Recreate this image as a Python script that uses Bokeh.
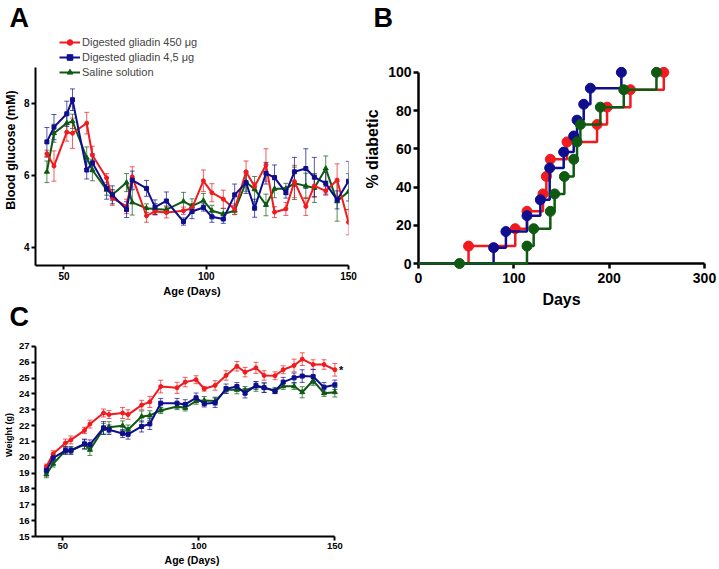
from bokeh.plotting import figure
from bokeh.models import ColumnDataSource, Whisker, TeeHead, Legend, LegendItem, Label
from bokeh.layouts import column, row
from bokeh.embed import file_html
from bokeh.resources import INLINE

FONT = "Liberation Sans"
RED = "#F01A1F"
BLUE = "#0E0E8E"
GREEN = "#0E5A12"

# ---------------- data ----------------
age_days = [44, 46.5, 51, 53, 58, 60, 65, 67, 72, 74, 79, 82, 86, 92, 95,
            99, 102, 106, 110, 114, 117, 121, 124, 128, 131, 135, 138, 142, 146, 150]

# Panel A: blood glucose (mM)
glucose_450 = [6.60, 6.26, 7.20, 7.17, 7.45, 6.56, 5.93, 5.37, 5.14, 5.96, 4.88, 5.00, 4.97, 5.02, 5.09,
               5.85, 5.52, 5.34, 5.06, 6.10, 5.69, 6.29, 4.98, 5.07, 5.83, 5.14, 5.71, 5.57, 5.87, 4.70]
glucose_450_sem = [0.10, 0.42, 0.25, 0.42, 0.30, 0.25, 0.12, 0.20, 0.20, 0.28, 0.18, 0.10, 0.15, 0.10, 0.12,
                   0.30, 0.25, 0.25, 0.15, 0.30, 0.12, 0.45, 0.15, 0.18, 0.45, 0.25, 0.30, 0.12, 0.45, 0.35]
glucose_45 = [6.93, 7.34, 7.71, 8.10, 6.15, 6.35, 5.64, 5.46, 5.05, 5.87, 5.64, 5.12, 5.29, 4.72, 5.00,
              5.11, 4.85, 4.79, 5.46, 5.80, 5.09, 6.06, 5.94, 5.52, 6.10, 6.19, 5.95, 5.78, 5.32, 5.84]
glucose_45_sem = [0.40, 0.35, 0.35, 0.30, 0.25, 0.25, 0.30, 0.25, 0.22, 0.25, 0.22, 0.20, 0.25, 0.10, 0.20,
                  0.10, 0.15, 0.12, 0.30, 0.30, 0.25, 0.30, 0.35, 0.15, 0.40, 0.55, 0.55, 0.30, 0.25, 0.55]
glucose_saline = [6.10, 7.17, 7.45, 7.50, 6.49, 6.15, 5.60, 5.46, 5.80, 5.25, 5.09, 5.07, 5.05, 5.28, 5.15,
                  5.30, 5.02, 4.93, 5.02, 5.81, 5.62, 5.18, 5.63, 5.63, 5.78, 5.71, 5.65, 6.19, 5.28, 5.55]
glucose_saline_sem = [0.30, 0.25, 0.25, 0.20, 0.30, 0.30, 0.15, 0.15, 0.25, 0.35, 0.12, 0.15, 0.10, 0.25, 0.20,
                      0.20, 0.15, 0.15, 0.10, 0.25, 0.35, 0.30, 0.25, 0.15, 0.45, 0.35, 0.40, 0.35, 0.55, 0.50]

# Panel C: weight (g)
weight_450 = [19.42, 20.22, 20.90, 21.10, 21.70, 22.10, 22.80, 22.70, 22.80, 22.70, 23.30, 23.50, 24.47, 24.39, 24.75,
              24.90, 24.33, 24.54, 25.17, 25.75, 25.38, 25.65, 25.17, 25.15, 25.53, 25.80, 26.20, 25.86, 25.86, 25.53]
weight_450_sem = [0.15, 0.20, 0.25, 0.25, 0.20, 0.25, 0.25, 0.25, 0.35, 0.30, 0.30, 0.35, 0.40, 0.35, 0.30,
                  0.25, 0.15, 0.30, 0.30, 0.30, 0.30, 0.35, 0.30, 0.25, 0.25, 0.40, 0.40, 0.30, 0.30, 0.40]
weight_45 = [19.17, 19.97, 20.43, 20.43, 20.85, 20.80, 21.86, 21.74, 21.50, 21.45, 21.95, 22.11, 23.42, 23.42, 23.34,
             23.76, 23.38, 23.45, 24.33, 24.47, 24.05, 24.54, 24.40, 24.18, 24.75, 25.02, 25.13, 25.10, 24.43, 24.58]
weight_45_sem = [0.20, 0.20, 0.25, 0.25, 0.30, 0.30, 0.40, 0.30, 0.25, 0.30, 0.35, 0.35, 0.30, 0.30, 0.30,
                 0.30, 0.20, 0.30, 0.30, 0.25, 0.30, 0.25, 0.30, 0.15, 0.30, 0.30, 0.40, 0.45, 0.30, 0.30]
weight_saline = [18.91, 19.59, 20.43, 20.43, 20.81, 20.47, 21.80, 21.90, 22.00, 21.74, 22.58, 22.64, 22.96, 23.21, 23.13,
                 23.55, 23.59, 23.55, 24.26, 24.26, 24.22, 24.47, 24.40, 24.22, 24.49, 24.49, 24.11, 24.85, 24.05, 24.11]
weight_saline_sem = [0.20, 0.20, 0.20, 0.20, 0.30, 0.35, 0.35, 0.35, 0.30, 0.30, 0.35, 0.30, 0.20, 0.20, 0.20,
                     0.20, 0.25, 0.25, 0.20, 0.25, 0.25, 0.30, 0.30, 0.20, 0.20, 0.20, 0.35, 0.30, 0.20, 0.30]

# Panel B: cumulative % diabetic
onset_days_450 = [0, 52.5, 101.5, 113.8, 130.6, 134.1, 138.3, 155.8, 187.3, 197.8, 222.3, 257.3]
pct_diabetic_450 = [0, 9.1, 18.2, 27.3, 36.4, 45.5, 54.5, 63.6, 72.7, 81.8, 90.9, 100]
onset_days_45 = [0, 78.8, 91.7, 113.8, 127.8, 137.6, 152.3, 162.8, 166.3, 173.3, 180.3, 212.8]
pct_diabetic_45 = [0, 8.3, 16.7, 25.0, 33.3, 50.0, 58.3, 66.7, 75.0, 83.3, 91.7, 100]
onset_days_saline = [0, 43, 113.8, 120.8, 138.3, 142.8, 153.0, 162.8, 166.3, 169.8, 190.8, 215.3, 249.6]
pct_diabetic_saline = [0, 0, 9.1, 18.2, 27.3, 36.4, 45.5, 54.5, 63.6, 72.7, 81.8, 90.9, 100]

labels = ["Digested gliadin 450 \u03bcg", "Digested gliadin 4,5 \u03bcg", "Saline solution"]
a_ticks_x = [50, 100, 150]
a_ticks_y = [4, 6, 8]
b_ticks_x = [0, 100, 200, 300]
b_ticks_y = [0, 20, 40, 60, 80, 100]
c_ticks_y = list(range(15, 28))


def base_fig(width, height, xr, yr, left, right, top, bottom, letter, letter_offset, lw=2):
    p = figure(width=width, height=height, x_range=xr, y_range=yr,
               output_backend="svg", toolbar_location=None,
               min_border_left=left, min_border_right=right,
               min_border_top=top, min_border_bottom=bottom)
    p.xgrid.visible = False
    p.ygrid.visible = False
    p.outline_line_color = None
    for ax in list(p.xaxis) + list(p.yaxis):
        ax.axis_line_width = lw
        ax.axis_line_color = "black"
        ax.major_tick_line_width = lw
        ax.major_tick_line_color = "black"
        ax.major_tick_in = 0
        ax.major_tick_out = 4
        ax.minor_tick_line_color = None
        ax.major_label_text_font = FONT
        ax.major_label_text_font_style = "bold"
        ax.major_label_text_color = "black"
        ax.axis_label_text_font = FONT
        ax.axis_label_text_font_style = "bold"
        ax.axis_label_text_color = "black"
    p.title.text = letter
    p.title.text_font = FONT
    p.title.text_font_size = "27px"
    p.title.text_font_style = "bold"
    p.title.text_color = "black"
    p.title.align = "left"
    p.title.vertical_align = "top"
    p.title.standoff = 0
    p.title.offset = letter_offset
    return p


def draw_series(p, x, y, err, color, marker, size):
    src = ColumnDataSource(dict(x=x, y=y,
                                upper=[a + b for a, b in zip(y, err)],
                                lower=[a - b for a, b in zip(y, err)]))
    w = Whisker(source=src, base="x", upper="upper", lower="lower",
                line_color=color, line_width=1, line_alpha=0.7,
                upper_head=TeeHead(size=5, line_color=color, line_width=1, line_alpha=0.7),
                lower_head=TeeHead(size=5, line_color=color, line_width=1, line_alpha=0.7))
    p.add_layout(w)
    ln = p.line("x", "y", source=src, line_color=color, line_width=2)
    sc = p.scatter("x", "y", source=src, marker=marker, size=size,
                   fill_color=color, line_color=color)
    return [ln, sc]


# ---------------- Panel A ----------------
pA = base_fig(360, 299, (40, 150), (3.5, 9.91), 30, 11, 34, 33, "A", -26)
pA.xaxis.ticker = a_ticks_x
pA.yaxis.ticker = a_ticks_y
pA.yaxis.bounds = (3.5, 9)
pA.xaxis.axis_label = "Age (Days)"
pA.yaxis.axis_label = "Blood glucose (mM)"
pA.axis.major_label_text_font_size = "10px"
pA.axis.major_label_standoff = 2
pA.xaxis.axis_label_text_font_size = "11px"
pA.yaxis.axis_label_text_font_size = "12.5px"
pA.xaxis.axis_label_standoff = 2
pA.yaxis.axis_label_standoff = 3

rA_sal = draw_series(pA, age_days, glucose_saline, glucose_saline_sem, GREEN, "triangle", 5)
rA_450 = draw_series(pA, age_days, glucose_450, glucose_450_sem, RED, "circle", 4)
rA_45 = draw_series(pA, age_days, glucose_45, glucose_45_sem, BLUE, "square", 4)

legA = Legend(items=[LegendItem(label=labels[0], renderers=rA_450),
                     LegendItem(label=labels[1], renderers=rA_45),
                     LegendItem(label=labels[2], renderers=rA_sal)],
              location=(24, 186), orientation="vertical",
              border_line_color=None, background_fill_alpha=0,
              padding=0, margin=0, spacing=1, label_standoff=2,
              glyph_width=21, glyph_height=14, label_height=14,
              label_text_font=FONT, label_text_font_size="11px")
pA.add_layout(legA)

# ---------------- Panel C ----------------
pC = base_fig(360, 269, (40, 155), (15, 27.82), 32, 12, 34, 31, "C", -26)
pC.xaxis.ticker = a_ticks_x
pC.yaxis.ticker = c_ticks_y
pC.xaxis.bounds = (40, 150)
pC.yaxis.bounds = (15, 27)
pC.xaxis.axis_label = "Age (Days)"
pC.yaxis.axis_label = "Weight (g)"
pC.xaxis.major_label_text_font_size = "9.5px"
pC.yaxis.major_label_text_font_size = "9.5px"
pC.axis.major_label_standoff = 2
pC.xaxis.axis_label_text_font_size = "10.5px"
pC.yaxis.axis_label_text_font_size = "9px"
pC.axis.axis_label_standoff = 2

draw_series(pC, age_days, weight_saline, weight_saline_sem, GREEN, "triangle", 5)
draw_series(pC, age_days, weight_450, weight_450_sem, RED, "circle", 4)
draw_series(pC, age_days, weight_45, weight_45_sem, BLUE, "square", 4)
pC.add_layout(Label(x=age_days[-1], y=weight_450[-1], x_offset=4, text="*",
                    text_font=FONT, text_font_size="11px", text_font_style="bold",
                    text_baseline="middle", text_color="black"))

# ---------------- Panel B ----------------
pB = base_fig(357, 310, (0, 300), (0, 119.8), 58, 13, 34, 47, "B", -45, lw=2.5)
pB.xaxis.ticker = b_ticks_x
pB.yaxis.ticker = b_ticks_y
pB.yaxis.bounds = (0, 100)
pB.axis.major_tick_out = 5
pB.xaxis.axis_label = "Days"
pB.yaxis.axis_label = "% diabetic"
pB.axis.major_label_text_font_size = "14px"
pB.xaxis.major_label_standoff = 4
pB.yaxis.major_label_standoff = 2
pB.axis.axis_label_text_font_size = "16px"
pB.xaxis.axis_label_standoff = 5
pB.yaxis.axis_label_standoff = 4

for days, pct, color in [(onset_days_450, pct_diabetic_450, RED),
                         (onset_days_45, pct_diabetic_45, BLUE),
                         (onset_days_saline, pct_diabetic_saline, GREEN)]:
    st = pB.step(days, pct, mode="after", line_color=color, line_width=2.5)
    st.level = "overlay"
    sc = pB.scatter(days[1:], pct[1:], marker="circle", size=10,
                    fill_color=color, line_color=color)
    sc.level = "overlay"

layout = row(column(pA, pC), pB)
open("out.html", "w").write(file_html(layout, INLINE))
